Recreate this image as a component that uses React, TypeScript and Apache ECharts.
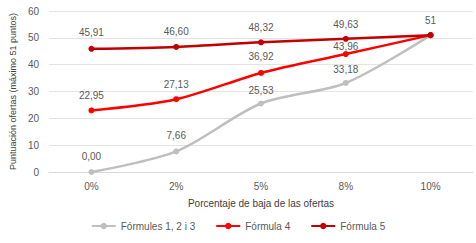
import React, { useEffect, useRef } from "react";
import * as echarts from "echarts";

const categories = ["0%", "2%", "5%", "8%", "10%"];
const formules123 = [0, 7.66, 25.53, 33.18, 51];
const formula4 = [22.95, 27.13, 36.92, 43.96, 51];
const formula5 = [45.91, 46.6, 48.32, 49.63, 51];
const seriesNames = ["Fórmules 1, 2 i 3", "Fórmula 4", "Fórmula 5"];
const yTicks = { min: 0, max: 60, interval: 10 };

const FONT = "'Liberation Sans', Arial, sans-serif";
const TXT = "#595959";

const fmt = (v: number) => (v === 51 ? "51" : v.toFixed(2).replace(".", ","));

export default function App() {
  const ref = useRef<HTMLDivElement>(null);
  useEffect(() => {
    if (!ref.current) return;
    const chart = echarts.init(ref.current, undefined, { renderer: "svg" });
    const mk = (
      name: string,
      values: number[],
      color: string,
      showLast: boolean,
      z: number,
      dist: number[]
    ) => ({
      name,
      type: "line",
      smooth: 0.3,
      z,
      symbol: "circle",
      symbolSize: 6,
      lineStyle: { color, width: 2.5 },
      itemStyle: { color },
      data: values.map((v, i) => ({
        value: v,
        label: { show: i < values.length - 1 || showLast, distance: dist[i] },
      })),
      label: {
        show: true,
        position: "top",
        color: TXT,
        fontFamily: FONT,
        fontSize: 10,
        formatter: (p: any) => fmt(p.value),
      },
    });
    chart.setOption({
      animation: false,
      textStyle: { fontFamily: FONT },
      grid: { left: 42, right: 3, top: 11, bottom: 71 },
      legend: {
        bottom: 7,
        left: "center",
        itemWidth: 24,
        itemHeight: 8,
        itemGap: 20,
        textStyle: { color: TXT, fontFamily: FONT, fontSize: 10 },
        data: seriesNames,
      },
      xAxis: {
        type: "category",
        data: categories,
        boundaryGap: true,
        name: "Porcentaje de baja de las ofertas",
        nameLocation: "middle",
        nameGap: 26,
        nameTextStyle: { color: "#404040", fontFamily: FONT, fontSize: 10 },
        axisLine: { lineStyle: { color: "#d9d9d9" } },
        axisTick: { show: false },
        axisLabel: { color: TXT, fontFamily: FONT, fontSize: 10, margin: 9 },
      },
      yAxis: {
        type: "value",
        ...yTicks,
        name: "Puntuación ofertas (máximo 51 puntos)",
        nameLocation: "middle",
        nameGap: 25,
        nameTextStyle: { color: "#404040", fontFamily: FONT, fontSize: 9 },
        axisLine: { show: false },
        axisTick: { show: false },
        axisLabel: { color: TXT, fontFamily: FONT, fontSize: 10, margin: 10 },
        splitLine: { lineStyle: { color: "#e3e3e3" } },
      },
      series: [
        mk(seriesNames[0], formules123, "#bfbfbf", false, 2, [8, 8, 5, 5, 5]),
        mk(seriesNames[1], formula4, "#ff0000", false, 3, [7, 7, 8, 0, 5]),
        mk(seriesNames[2], formula5, "#c00000", true, 4, [8, 7, 7, 6, 7]),
      ],
    });
    return () => chart.dispose();
  }, []);
  return (
    <div
      ref={ref}
      style={{ position: "absolute", left: 0, top: 0, width: 476, height: 243 }}
    />
  );
}
